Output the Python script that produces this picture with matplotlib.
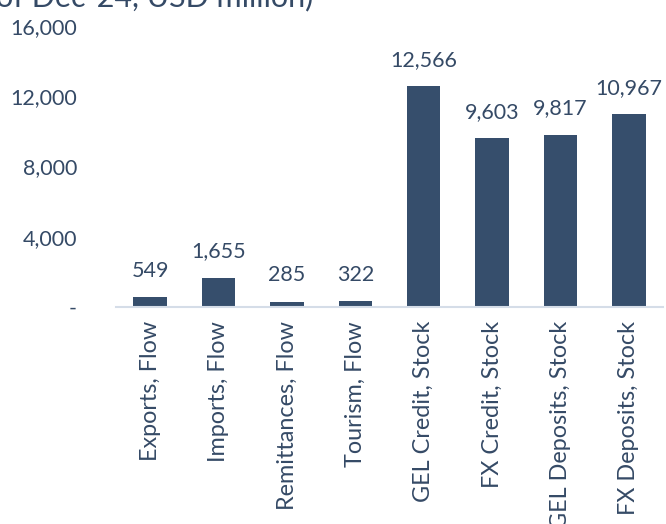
import numpy as np
import matplotlib.pyplot as plt

# values as of Dec-24, USD million
categories = ['Exports, Flow', 'Imports, Flow', 'Remittances, Flow', 'Tourism, Flow',
              'GEL Credit, Stock', 'FX Credit, Stock', 'GEL Deposits, Stock', 'FX Deposits, Stock']
values = [549, 1655, 285, 322, 12566, 9603, 9817, 10967]
y_ticks = [0, 4000, 8000, 12000, 16000]
y_ticklabels = ['-', '4,000', '8,000', '12,000', '16,000']

bar_col = '#364e6c'
txt_col = '#354a66'
plt.rcParams['font.family'] = ['Lato', 'DejaVu Sans']

fig = plt.figure(figsize=(6.66, 5.24), dpi=100)
ax = fig.add_axes([116/666, 1 - 307/524, (663 - 116)/666, (307 - 26)/524])

x = np.arange(len(categories))
ax.bar(x, values, width=0.49, color=bar_col, zorder=2)

for xi, v in zip(x, values):
    ax.annotate(f'{v:,}', (xi, v), xytext=(0, 12), textcoords='offset points',
                ha='center', va='bottom', fontsize=15.5, color=txt_col)

ax.set_xlim(-0.5, 7.5)
ax.set_ylim(0, 16000)
ax.set_xticks(x)
ax.set_xticklabels(categories, rotation=90, fontsize=16.8, color=txt_col)
ax.set_yticks(y_ticks)
ax.set_yticklabels(y_ticklabels, fontsize=15.5, color=txt_col)
ax.tick_params(length=0)
ax.tick_params(axis='y', pad=28)
ax.tick_params(axis='x', pad=10)

for s in ['top', 'right', 'left']:
    ax.spines[s].set_visible(False)
ax.spines['bottom'].set_color('#d5dde8')
ax.spines['bottom'].set_linewidth(1.5)

# title is cut off at the top of the image
fig.text(-4/666, 1 - 6/524, 'of Dec-24, USD million)', fontsize=22,
         color=txt_col, ha='left', va='baseline')

fig.savefig('out.png', dpi=100)
